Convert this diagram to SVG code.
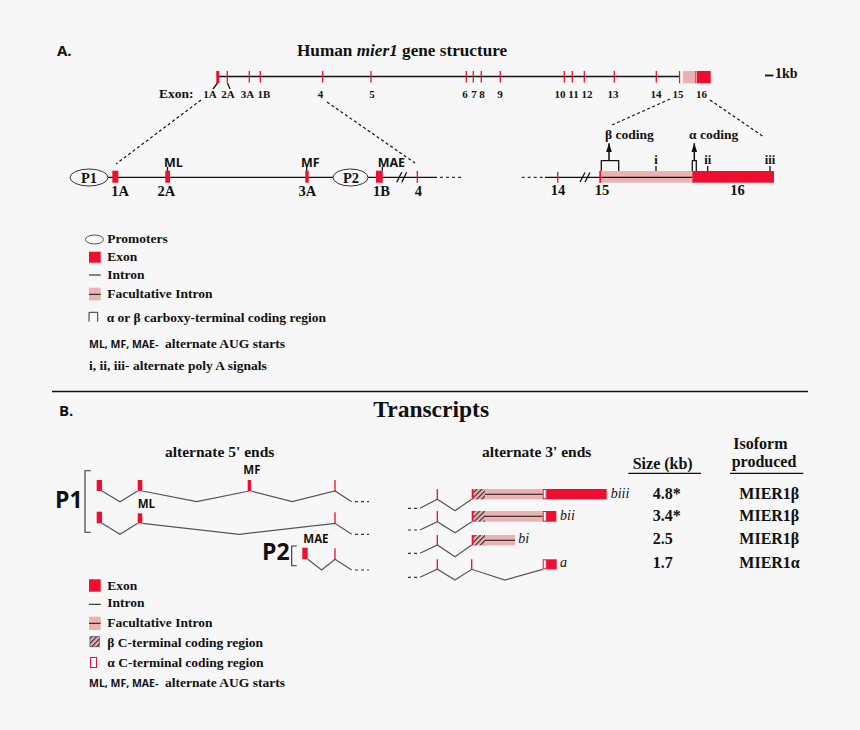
<svg xmlns="http://www.w3.org/2000/svg" width="860" height="730" viewBox="0 0 860 730">
<defs>
<style>
.s{font-family:"Liberation Serif","Times New Roman",serif;font-weight:bold;fill:#111}
.ss{font-family:"Open Sans","Liberation Sans",Arial,sans-serif;font-weight:bold;fill:#111}
.it{font-style:italic;font-weight:bold}
.itn{font-family:"Liberation Serif","Times New Roman",serif;font-style:italic;font-weight:normal;fill:#111;font-size:14px}
.ex{fill:#ef0e30}
.fc{fill:#ecb2b2}
.bk{stroke:#111;stroke-width:1.3;fill:none}
.gy{stroke:#555;stroke-width:1.2;fill:none}
.rt{stroke:#ef0e30;stroke-width:1.3;fill:none}
.dsh{stroke:#111;stroke-width:1.2;stroke-dasharray:3 2.5;fill:none}
.dot{stroke:#333;stroke-width:1.2;stroke-dasharray:3 3;fill:none}
.wb{fill:#fff;stroke:#ef0e30;stroke-width:1}
.f10{font-size:11px}
.f13{font-size:13.5px}
.f14{font-size:14.5px}
.f16{font-size:16px}
.c{text-anchor:middle}
</style>
<pattern id="hatch" width="3.5" height="3.5" patternUnits="userSpaceOnUse" patternTransform="rotate(45)">
<rect width="3.5" height="3.5" fill="#ecb2b2"/>
<line x1="0.6" y1="0" x2="0.6" y2="3.5" stroke="#222" stroke-width="1.1"/>
</pattern>
<marker id="ah" markerUnits="userSpaceOnUse" markerWidth="9" markerHeight="6" viewBox="0 0 9 6" refX="9" refY="3" orient="auto">
<path d="M0,0 L9,3 L0,6 z" fill="#111"/>
</marker>
</defs>
<rect width="860" height="730" fill="#f7f7f7"/>

<!-- Section A header -->
<g id="headA">
<text class="ss" x="57" y="55.7" font-size="15">A.</text>
<text class="s" x="297" y="55.7" font-size="17.2">Human <tspan class="it">mier1</tspan> gene structure</text>
</g>

<!-- Full gene -->
<g id="gene">
<line x1="217" y1="76.5" x2="680" y2="76.5" stroke="#111" stroke-width="1.5"/>
<rect class="ex" x="216.3" y="71" width="3" height="12"/>
<path class="rt" d="M227.3,71V82.5M249.3,71V82.5M260.3,71V82.5M322.7,71V82.5M371,71V82.5M466.3,71V82.5M473.3,71V82.5M481.3,71V82.5M500.3,71V82.5M564.3,71V82.5M572.3,71V82.5M584.3,71V82.5M614.3,71V82.5M656.3,71V82.5M679.6,71V83.3"/>
<rect class="fc" x="680.3" y="71" width="14.7" height="12.3"/>
<rect fill="#fff" x="680.6" y="71" width="2.2" height="12.3"/>
<rect class="ex" x="695" y="71" width="15.7" height="12.3"/>
<line x1="696.2" y1="71" x2="696.2" y2="83.3" stroke="#fff" stroke-width="0.8"/>
<path class="bk" d="M217.5,83L213,89M227.5,83L230,89" stroke-width="0.9"/>
<text class="s" x="193.5" y="97.5" font-size="13.5" text-anchor="end">Exon:</text>
<g class="s f10 c">
<text x="210" y="97.5">1A</text><text x="228" y="97.5">2A</text><text x="247.5" y="97.5">3A</text><text x="264" y="97.5">1B</text>
<text x="320.5" y="97.5">4</text><text x="372" y="97.5">5</text><text x="465" y="97.5">6</text><text x="474" y="97.5">7</text>
<text x="482" y="97.5">8</text><text x="500" y="97.5">9</text><text x="560" y="97.5">10</text><text x="573.5" y="97.5">11</text>
<text x="587" y="97.5">12</text><text x="613" y="97.5">13</text><text x="656" y="97.5">14</text><text x="678" y="97.5">15</text>
<text x="701.5" y="97.5">16</text>
</g>
<line x1="765" y1="75.5" x2="773.3" y2="75.5" stroke="#111" stroke-width="1.8"/>
<text class="s" x="775" y="78.3" font-size="14">1kb</text>
</g>

<!-- zoom connectors -->
<g id="connectors">
<path class="dsh" d="M201,100L116,164M327,102L415,163M670,99L612,125M710,100L764,137"/>
</g>

<!-- Exons 1-4 detail -->
<g id="detail5">
<line x1="107.7" y1="177.3" x2="333" y2="177.3" stroke="#111" stroke-width="1.2"/>
<line x1="368" y1="177.3" x2="437" y2="177.3" stroke="#111" stroke-width="1.2"/>
<line class="dot" x1="440" y1="177.3" x2="462" y2="177.3"/>
<path class="bk" d="M396.7,182.3L401.7,172.3M401.7,182.3L406.7,172.3" stroke-width="1"/>
<ellipse cx="89" cy="177.5" rx="19" ry="8.5" fill="none" stroke="#333" stroke-width="1"/>
<text class="s f14 c" x="89" y="182.5">P1</text>
<ellipse cx="350.5" cy="177.5" rx="17.5" ry="8.5" fill="none" stroke="#333" stroke-width="1"/>
<text class="s f14 c" x="351" y="182.5">P2</text>
<rect class="ex" x="112.3" y="170.7" width="6" height="12"/>
<rect class="ex" x="165.3" y="170.7" width="4.7" height="12"/>
<rect class="ex" x="305.3" y="170.7" width="3.4" height="12"/>
<rect class="ex" x="376" y="170.7" width="6.7" height="12"/>
<line class="rt" x1="417.3" y1="171" x2="417.3" y2="183"/>
<path class="bk" d="M167.5,167V170.7M306.7,167V170.7M382.3,167V170.7" stroke-width="1"/>
<g class="ss" font-size="12.5">
<text x="164" y="166.5">ML</text><text x="301" y="166.5">MF</text><text x="377.7" y="166.5">MAE</text>
</g>
<g class="s f14 c">
<text x="120" y="196">1A</text><text x="166.3" y="196">2A</text><text x="307.3" y="196">3A</text><text x="381.5" y="196">1B</text><text x="418.3" y="196">4</text>
</g>
</g>

<!-- Exons 14-16 detail -->
<g id="detail3">
<line class="dot" x1="521.7" y1="177.3" x2="545" y2="177.3"/>
<line x1="545" y1="177.3" x2="600" y2="177.3" stroke="#111" stroke-width="1.2"/>
<path class="bk" d="M580,182L585,172.5M585,182L590,172.5" stroke-width="1"/>
<line class="rt" x1="557.7" y1="171.7" x2="557.7" y2="182.7"/>
<rect class="ex" x="599.3" y="171" width="2" height="11.7"/>
<rect class="fc" x="601.3" y="171" width="91" height="11.7"/>
<line x1="601.3" y1="177.3" x2="692.3" y2="177.3" stroke="#111" stroke-width="1.2"/>
<rect class="ex" x="692.3" y="171" width="81.7" height="11.7"/>
<path class="bk" d="M601.3,171V160.7H618.7V171M692.3,171V160.7H696.3V171" stroke-width="1.2"/>
<line x1="609" y1="160.7" x2="609" y2="143.3" stroke="#111" stroke-width="1.5" marker-end="url(#ah)"/>
<line x1="694.3" y1="160.7" x2="694.3" y2="143.3" stroke="#111" stroke-width="1.5" marker-end="url(#ah)"/>
<text class="s" x="605" y="139" font-size="13.5">β coding</text>
<text class="s" x="689" y="139" font-size="13.5">α coding</text>
<path class="bk" d="M656,166V171M707.7,166V171M770,166V171" stroke-width="1"/>
<g class="s c" font-size="12.5">
<text x="656" y="163.5">i</text><text x="707.7" y="163.5">ii</text><text x="770" y="163.5">iii</text>
</g>
<g class="s f14 c">
<text x="558" y="195">14</text><text x="602" y="195">15</text><text x="737.5" y="195">16</text>
</g>
</g>

<!-- Legend A -->
<g id="legendA">
<ellipse cx="94.5" cy="239.5" rx="9" ry="4.5" fill="none" stroke="#555" stroke-width="1"/>
<text class="s f13" x="107.3" y="243.3">Promoters</text>
<rect class="ex" x="89" y="251.7" width="11.7" height="11"/>
<text class="s f13" x="107.3" y="261">Exon</text>
<line x1="89" y1="275" x2="100.7" y2="275" stroke="#111" stroke-width="1"/>
<text class="s f13" x="107.3" y="279">Intron</text>
<rect class="fc" x="89" y="287.7" width="11.7" height="12.6"/>
<line x1="89" y1="294.3" x2="100.7" y2="294.3" stroke="#111" stroke-width="1"/>
<text class="s f13" x="107.3" y="298.3">Facultative Intron</text>
<path d="M89,321.7V312.3H97.7V321.7" fill="none" stroke="#333" stroke-width="1"/>
<text class="s f13" x="106.7" y="321.7">α or β carboxy-terminal coding region</text>
<text class="ss" x="89" y="347.7" font-size="10.5">ML, MF, MAE-</text>
<text class="s f13" x="165" y="347.7">alternate AUG starts</text>
<text class="s f13" x="89" y="370">i, ii, iii- alternate poly A signals</text>
</g>

<line id="divider" x1="52" y1="391.5" x2="808" y2="391.5" stroke="#111" stroke-width="1.3"/>

<!-- Section B header -->
<g id="headB">
<text class="ss" x="59" y="416" font-size="15">B.</text>
<text class="s" x="373.3" y="416.7" font-size="23.5">Transcripts</text>
<text class="s" x="165" y="457.3" font-size="15.5">alternate  5' ends</text>
<text class="s" x="482" y="457.3" font-size="15.5">alternate 3' ends</text>
</g>

<!-- 5' ends -->
<g id="p1">
<text class="ss" x="55" y="508.3" font-size="23">P1</text>
<path d="M90.7,470.7H85V532.3H90.7" fill="none" stroke="#333" stroke-width="1.1"/>
</g>
<g id="t5a">
<polyline class="gy" points="102,491 120,501.7 137.7,491"/>
<polyline class="gy" points="142.3,491 196.7,501.7 249.3,491"/>
<polyline class="gy" points="251,491 292.3,501.7 335,491 351.7,501.7"/>
<line class="dot" x1="355" y1="501.7" x2="369" y2="501.7"/>
<rect class="ex" x="96.7" y="480" width="5.3" height="11"/>
<rect class="ex" x="137.7" y="480" width="4.6" height="11"/>
<rect class="ex" x="247.7" y="480" width="3.3" height="11"/>
<line class="rt" x1="335" y1="480" x2="335" y2="491" stroke-width="1"/>
<text class="ss" x="243.3" y="474.3" font-size="11.5">MF</text>
</g>
<g id="t5b">
<polyline class="gy" points="102,523.3 120,534.3 137.7,523.3"/>
<polyline class="gy" points="142.3,523.3 239.3,534.3 335,523.3 351.7,534.3"/>
<line class="dot" x1="355" y1="534.3" x2="369" y2="534.3"/>
<rect class="ex" x="96.7" y="511.7" width="5.3" height="11.6"/>
<rect class="ex" x="137.7" y="513.3" width="4.6" height="10"/>
<line class="rt" x1="335" y1="512.3" x2="335" y2="523.3" stroke-width="1"/>
<text class="ss" x="137.7" y="508.3" font-size="11.5">ML</text>
</g>
<g id="p2">
<text class="ss" x="262" y="560" font-size="23">P2</text>
<path d="M296.7,546H291.7V565.7H296.7" fill="none" stroke="#333" stroke-width="1.1"/>
<polyline class="gy" points="307.7,559.3 321.7,570 335,559.3 351.7,570"/>
<line class="dot" x1="355" y1="570" x2="369" y2="570"/>
<rect class="ex" x="302.3" y="547.7" width="5.4" height="11.6"/>
<line class="rt" x1="335" y1="548.3" x2="335" y2="559.3" stroke-width="1"/>
<text class="ss" x="303.3" y="543.3" font-size="11.5">MAE</text>
</g>

<!-- 3' ends -->
<g id="biii">
<line class="dot" x1="408" y1="508.3" x2="420" y2="508.3"/>
<polyline class="gy" points="420,508.3 437.3,499.3 455,510.7 471.7,499.3"/>
<line class="rt" x1="437.3" y1="489" x2="437.3" y2="499.3" stroke-width="1"/>
<rect class="fc" x="473.3" y="489" width="69.4" height="10.3"/>
<line x1="473.3" y1="494.3" x2="542.7" y2="494.3" stroke="#111" stroke-width="1.1"/>
<rect x="473.3" y="489" width="11.7" height="10.3" fill="url(#hatch)"/>
<rect class="ex" x="471.7" y="489" width="1.8" height="10.3"/>
<rect class="wb" x="543.2" y="489.5" width="3" height="9.3"/>
<rect class="ex" x="546.5" y="489" width="60.2" height="10.3"/>
<text class="itn" x="610.7" y="497.7">biii</text>
</g>
<g id="bii">
<line class="dot" x1="408" y1="530" x2="420" y2="530"/>
<polyline class="gy" points="420,530 437.3,521.7 455,532.7 471.7,521.7"/>
<line class="rt" x1="437.3" y1="511" x2="437.3" y2="521.7" stroke-width="1"/>
<rect class="fc" x="473.3" y="511" width="69.4" height="10.7"/>
<line x1="473.3" y1="516.3" x2="542.7" y2="516.3" stroke="#111" stroke-width="1.1"/>
<rect x="473.3" y="511" width="11.7" height="10.7" fill="url(#hatch)"/>
<rect class="ex" x="471.7" y="511" width="1.8" height="10.7"/>
<rect class="wb" x="543.2" y="511.5" width="3" height="9.7"/>
<rect class="ex" x="546.5" y="511" width="9.8" height="10.7"/>
<text class="itn" x="560" y="520">bii</text>
</g>
<g id="bi">
<line class="dot" x1="408" y1="553.3" x2="420" y2="553.3"/>
<polyline class="gy" points="420,553.3 437.3,545 455,556.7 471.7,545"/>
<line class="rt" x1="437.3" y1="535" x2="437.3" y2="545" stroke-width="1"/>
<rect class="fc" x="473.3" y="535" width="41.7" height="10.3"/>
<line x1="473.3" y1="540.3" x2="515" y2="540.3" stroke="#111" stroke-width="1.1"/>
<rect x="473.3" y="535" width="11.7" height="10.3" fill="url(#hatch)"/>
<rect class="ex" x="471.7" y="535" width="1.8" height="10.3"/>
<text class="itn" x="518.3" y="543.3">bi</text>
</g>
<g id="a">
<line class="dot" x1="408" y1="577.3" x2="420" y2="577.3"/>
<polyline class="gy" points="420,577.3 437.3,569.3 455,580 471.7,569.3 505,580 542.7,569.3"/>
<path class="rt" d="M437.3,559.3V569.3M471.7,559.3V569.3" stroke-width="1"/>
<rect class="wb" x="543.2" y="559.8" width="3" height="9"/>
<rect class="ex" x="546.5" y="559.3" width="10.2" height="10"/>
<text class="itn" x="560" y="567.3">a</text>
</g>

<!-- Table -->
<g id="table">
<text class="s f16" x="632.7" y="469.3">Size (kb)</text>
<line x1="628.3" y1="473.3" x2="701" y2="473.3" stroke="#111" stroke-width="1.2"/>
<text class="s f16" x="733.3" y="449.3">Isoform</text>
<text class="s f16" x="731.7" y="466.7">produced</text>
<line x1="730" y1="473.3" x2="803.3" y2="473.3" stroke="#111" stroke-width="1.2"/>
<g class="s f16">
<text x="652.7" y="499.3">4.8*</text><text x="652.7" y="520.7">3.4*</text><text x="652.7" y="544">2.5</text><text x="652.7" y="568.3">1.7</text>
<text x="739.3" y="499.3">MIER1β</text><text x="739.3" y="520.7">MIER1β</text><text x="739.3" y="544">MIER1β</text><text x="739.3" y="568.3">MIER1α</text>
</g>
</g>

<!-- Legend B -->
<g id="legendB">
<rect class="ex" x="89" y="579.3" width="11.7" height="12.4"/>
<text class="s f13" x="107.3" y="590">Exon</text>
<line x1="89" y1="604.3" x2="100.7" y2="604.3" stroke="#111" stroke-width="1"/>
<text class="s f13" x="107.3" y="607.3">Intron</text>
<rect class="fc" x="89" y="616.7" width="11.7" height="13.3"/>
<line x1="89" y1="623.3" x2="100.7" y2="623.3" stroke="#111" stroke-width="1"/>
<text class="s f13" x="107.3" y="627.3">Facultative Intron</text>
<rect x="90" y="636.7" width="9.3" height="10" fill="url(#hatch)" stroke="#555" stroke-width="0.8"/>
<text class="s f13" x="107.3" y="646.7">β C-terminal coding region</text>
<rect class="wb" x="90.5" y="657.5" width="6" height="10"/>
<text class="s f13" x="107.3" y="666.7">α C-terminal coding region</text>
<text class="ss" x="89" y="686.7" font-size="10.5">ML, MF, MAE-</text>
<text class="s f13" x="165" y="686.7">alternate AUG starts</text>
</g>
</svg>
